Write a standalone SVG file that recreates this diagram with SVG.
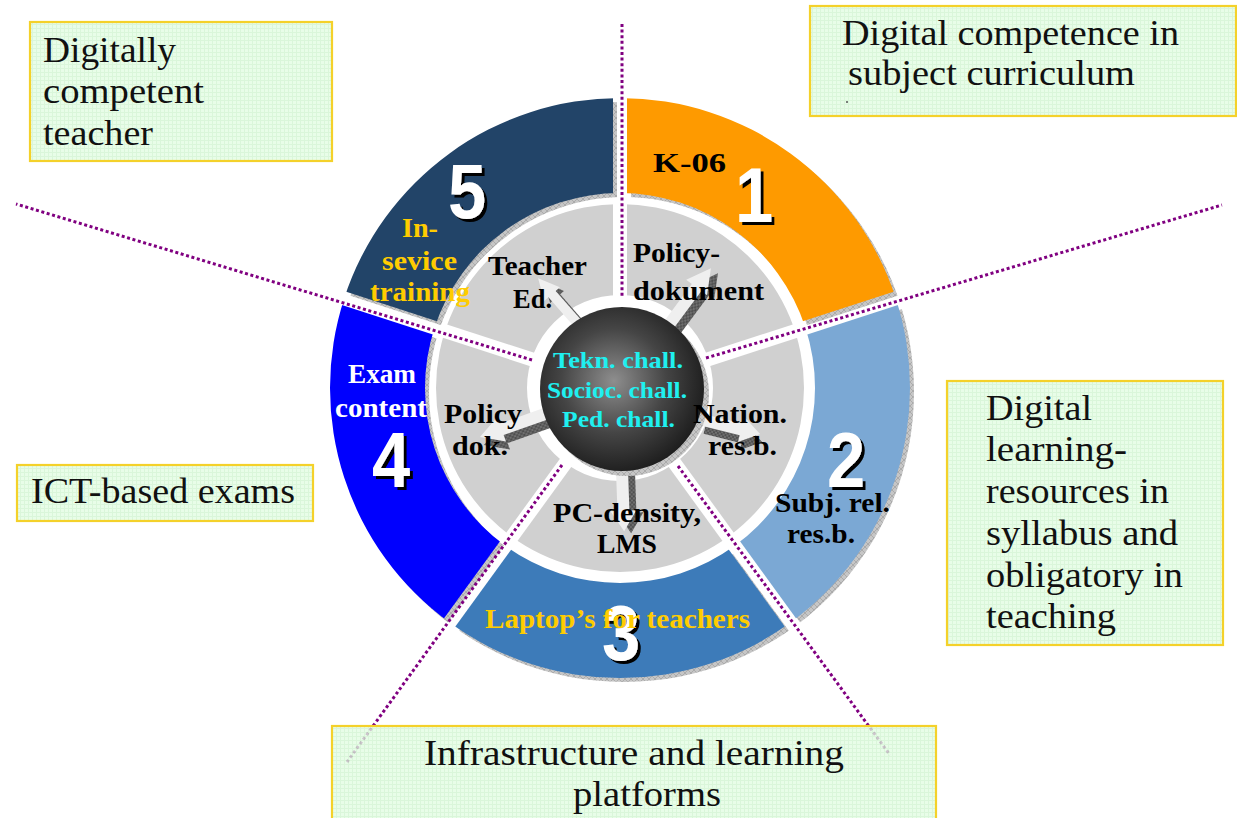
<svg xmlns="http://www.w3.org/2000/svg" width="1237" height="818" viewBox="0 0 1237 818">
<style>
.bx{fill:url(#grid);stroke:#f4d12a;stroke-width:2.2;fill-opacity:0.78}
.bt{font-family:"Liberation Serif",serif;font-size:35px;fill:#111}
.wl{font-family:"Liberation Serif",serif;font-size:27px;font-weight:bold;fill:#000}
.gold{fill:#ffcc00}
.wh{fill:#ffffff}
.cy{font-family:"Liberation Serif",serif;font-size:23px;font-weight:bold;fill:#1ff0f0}
.num{font-family:"Liberation Sans",sans-serif;font-weight:bold;font-size:78px;text-anchor:middle;fill:#fff;filter:url(#ds)}
.dot{stroke:#800080;stroke-width:3;stroke-dasharray:3 2.6;fill:none}
.arrL{fill:#efefef}
.arrD{fill:url(#dhatch)}
.gapl{stroke:#000;stroke-width:14}
</style>
<defs>
<filter id="ds" x="-30%" y="-30%" width="160%" height="160%">
<feFlood flood-color="#000"/><feComposite in2="SourceAlpha" operator="in"/><feOffset dx="3.5" dy="3"/>
<feMerge><feMergeNode/><feMergeNode in="SourceGraphic"/></feMerge>
</filter>
<pattern id="grid" width="4" height="4" patternUnits="userSpaceOnUse"><rect width="4" height="4" fill="#e1fde1"/><path d="M0,0.5 H4 M0.5,0 V4" stroke="#cff4cf" stroke-width="1"/></pattern>
<pattern id="hatch" width="6" height="6" patternUnits="userSpaceOnUse"><rect width="6" height="6" fill="#c6c6c6"/><path d="M0,6 L6,0 M0,0 L6,6" stroke="#999" stroke-width="0.6"/></pattern>
<pattern id="dhatch" width="4" height="4" patternUnits="userSpaceOnUse"><rect width="4" height="4" fill="#707070"/><path d="M0,4 L4,0 M0,0 L4,4" stroke="#404040" stroke-width="0.7"/></pattern>
<radialGradient id="sph" cx="0.45" cy="0.45" r="0.58"><stop offset="0" stop-color="#8e8e8e"/><stop offset="0.55" stop-color="#454545"/><stop offset="1" stop-color="#1c1c1c"/></radialGradient>
<mask id="gaps" maskUnits="userSpaceOnUse" x="0" y="0" width="1237" height="818">
<rect x="-50" y="-50" width="1337" height="918" fill="#fff"/>
<line class="gapl" x1="620" y1="388" x2="620" y2="-12"/>
<line class="gapl" x1="620" y1="388" x2="1000.42" y2="264.39"/>
<line class="gapl" x1="620" y1="388" x2="855.12" y2="711.61"/>
<line class="gapl" x1="620" y1="388" x2="384.88" y2="711.61"/>
<line class="gapl" x1="620" y1="388" x2="239.58" y2="264.39"/>
</mask>
<path id="arr" d="M0,-6 L40,-6 L40,-13 L60,0 L40,13 L40,6 L0,6 Z"/>
</defs>
<rect width="1237" height="818" fill="#fff"/>

<!-- outer ring shadow -->
<g mask="url(#gaps)" transform="translate(4,4)">
<path d="M330,388 a290,290 0 1,0 580,0 a290,290 0 1,0 -580,0 Z M425,388 a195,195 0 1,1 390,0 a195,195 0 1,1 -390,0 Z" fill="url(#hatch)" fill-rule="evenodd"/>
</g>

<g mask="url(#gaps)">
<g id="seg1"><path d="M620,98 A290,290 0 0 1 895.81,298.38 L805.46,327.74 A195,195 0 0 0 620,193 Z" fill="#fe9a00"/></g>
<g id="seg2"><path d="M895.81,298.38 A290,290 0 0 1 790.46,622.62 L734.62,545.76 A195,195 0 0 0 805.46,327.74 Z" fill="#7ba8d4"/></g>
<g id="seg3"><path d="M790.46,622.62 A290,290 0 0 1 449.54,622.62 L505.38,545.76 A195,195 0 0 0 734.62,545.76 Z" fill="#3d7bb9"/></g>
<g id="seg4"><path d="M449.54,622.62 A290,290 0 0 1 344.19,298.38 L434.54,327.74 A195,195 0 0 0 505.38,545.76 Z" fill="#0000fe"/></g>
<g id="seg5"><path d="M344.19,298.38 A290,290 0 0 1 620,98 L620,193 A195,195 0 0 0 434.54,327.74 Z" fill="#224468"/></g>
<g id="inner"><path d="M436,388 a184,184 0 1,0 368,0 a184,184 0 1,0 -368,0 Z M527,388 a93,93 0 1,1 186,0 a93,93 0 1,1 -186,0 Z" fill="#d0d0d0" fill-rule="evenodd"/></g>
</g>

<!-- arrows from center -->
<g id="arrows">
<use href="#arr" class="arrD" transform="translate(585,329) rotate(-131.2) scale(1.06,0.7)"/>
<use href="#arr" class="arrL" transform="translate(580,326) rotate(-131.2) scale(1.06,0.8)"/>
<use href="#arr" class="arrD" transform="translate(675,331) rotate(-53.4) scale(1.2,1)"/>
<use href="#arr" class="arrL" transform="translate(668,326) rotate(-53.4) scale(1.2,1)"/>
<use href="#arr" class="arrD" transform="translate(705,428) rotate(13.8) scale(0.98,1)"/>
<use href="#arr" class="arrL" transform="translate(703,420) rotate(13.8) scale(0.98,1)"/>
<use href="#arr" class="arrD" transform="translate(629,472) rotate(88) scale(1.02,1)"/>
<use href="#arr" class="arrL" transform="translate(622,470) rotate(88) scale(1.02,1)"/>
<use href="#arr" class="arrD" transform="translate(549,422) rotate(160.5) scale(1.15,1)"/>
<use href="#arr" class="arrL" transform="translate(545,414) rotate(160.5) scale(1.15,1)"/>
</g>

<g id="center">
<circle cx="627" cy="394" r="82" fill="url(#hatch)"/>
<circle cx="622" cy="389" r="82" fill="url(#sph)"/>
<text class="cy" x="553" y="368" textLength="130" lengthAdjust="spacingAndGlyphs">Tekn. chall.</text>
<text class="cy" x="547" y="398" textLength="140" lengthAdjust="spacingAndGlyphs">Socioc. chall.</text>
<text class="cy" x="562" y="427" textLength="113" lengthAdjust="spacingAndGlyphs">Ped. chall.</text>
</g>

<g id="connectors">
<line class="dot" x1="622" y1="24" x2="622" y2="297"/>
<line class="dot" x1="706" y1="358" x2="1222" y2="205"/>
<line class="dot" x1="678" y1="466" x2="890" y2="755"/>
<line class="dot" x1="562" y1="465" x2="347" y2="762"/>
<line class="dot" x1="532" y1="360" x2="16" y2="204"/>
</g>

<!-- wheel labels -->
<g id="lbl1">
<text class="wl" x="653" y="172" font-size="31" textLength="73" lengthAdjust="spacingAndGlyphs">K-06</text>
<text class="wl" x="633" y="262" textLength="87" lengthAdjust="spacingAndGlyphs">Policy-</text>
<text class="wl" x="633" y="300" textLength="131" lengthAdjust="spacingAndGlyphs">dokument</text>
<text class="num" transform="translate(754,222) scale(0.88,1)">1</text>
</g>
<g id="lbl2">
<text class="wl" x="693" y="423" textLength="94" lengthAdjust="spacingAndGlyphs">Nation.</text>
<text class="wl" x="708" y="455" textLength="69" lengthAdjust="spacingAndGlyphs">res.b.</text>
<text class="num" transform="translate(846,487) scale(0.88,1)">2</text>
<text class="wl" x="775" y="512" textLength="115" lengthAdjust="spacingAndGlyphs">Subj. rel.</text>
<text class="wl" x="787" y="543" textLength="68" lengthAdjust="spacingAndGlyphs">res.b.</text>
</g>
<g id="lbl3">
<text class="wl" x="553" y="522" textLength="148" lengthAdjust="spacingAndGlyphs">PC-density,</text>
<text class="wl" x="597" y="553" textLength="60" lengthAdjust="spacingAndGlyphs">LMS</text>
<text class="num" transform="translate(621,660) scale(0.88,1)">3</text>
<text class="wl gold" x="485" y="628" textLength="265" lengthAdjust="spacingAndGlyphs">Laptop’s for teachers</text>
</g>
<g id="lbl4">
<text class="wl wh" x="348" y="383" textLength="68" lengthAdjust="spacingAndGlyphs">Exam</text>
<text class="wl wh" x="335" y="417" textLength="92" lengthAdjust="spacingAndGlyphs">content</text>
<text class="num" transform="translate(391,487) scale(0.88,1)">4</text>
<text class="wl" x="444" y="423" textLength="78" lengthAdjust="spacingAndGlyphs">Policy</text>
<text class="wl" x="452" y="455" textLength="56" lengthAdjust="spacingAndGlyphs">dok.</text>
</g>
<g id="lbl5">
<text class="num" transform="translate(467,218) scale(0.88,1)">5</text>
<text class="wl gold" x="402" y="237" font-size="28" textLength="36" lengthAdjust="spacingAndGlyphs">In-</text>
<text class="wl gold" x="382" y="270" font-size="28" textLength="75" lengthAdjust="spacingAndGlyphs">sevice</text>
<text class="wl gold" x="370" y="301" font-size="28" textLength="100" lengthAdjust="spacingAndGlyphs">training</text>
<text class="wl" x="488" y="275" textLength="99" lengthAdjust="spacingAndGlyphs">Teacher</text>
<text class="wl" x="513" y="308" textLength="39" lengthAdjust="spacingAndGlyphs">Ed.</text>
</g>

<!-- boxes -->
<g id="box1">
<rect class="bx" x="30" y="22" width="302" height="139"/>
<text class="bt" x="43" y="62" textLength="133" lengthAdjust="spacingAndGlyphs">Digitally</text>
<text class="bt" x="43" y="103" textLength="161" lengthAdjust="spacingAndGlyphs">competent</text>
<text class="bt" x="43" y="145" textLength="110" lengthAdjust="spacingAndGlyphs">teacher</text>
</g>
<g id="box2">
<rect class="bx" x="810" y="6" width="426" height="110"/>
<text class="bt" x="842" y="45" textLength="337" lengthAdjust="spacingAndGlyphs">Digital competence in</text>
<text class="bt" x="848" y="85" textLength="287" lengthAdjust="spacingAndGlyphs">subject curriculum</text>
<circle cx="847" cy="102" r="1" fill="#555"/>
</g>
<g id="box3">
<rect class="bx" x="17" y="465" width="296" height="56"/>
<text class="bt" x="31" y="503" textLength="264" lengthAdjust="spacingAndGlyphs">ICT-based exams</text>
</g>
<g id="box4">
<rect class="bx" x="947" y="381" width="276" height="264"/>
<text class="bt" x="986" y="420" textLength="106" lengthAdjust="spacingAndGlyphs">Digital</text>
<text class="bt" x="986" y="461" textLength="141" lengthAdjust="spacingAndGlyphs">learning-</text>
<text class="bt" x="986" y="503" textLength="183" lengthAdjust="spacingAndGlyphs">resources in</text>
<text class="bt" x="986" y="545" textLength="192" lengthAdjust="spacingAndGlyphs">syllabus and</text>
<text class="bt" x="986" y="587" textLength="197" lengthAdjust="spacingAndGlyphs">obligatory in</text>
<text class="bt" x="986" y="628" textLength="130" lengthAdjust="spacingAndGlyphs">teaching</text>
</g>
<g id="box5">
<rect class="bx" x="332" y="726" width="604" height="110"/>
<text class="bt" x="424" y="765" textLength="420" lengthAdjust="spacingAndGlyphs">Infrastructure and learning</text>
<text class="bt" x="573" y="806" textLength="148" lengthAdjust="spacingAndGlyphs">platforms</text>
</g>
</svg>
